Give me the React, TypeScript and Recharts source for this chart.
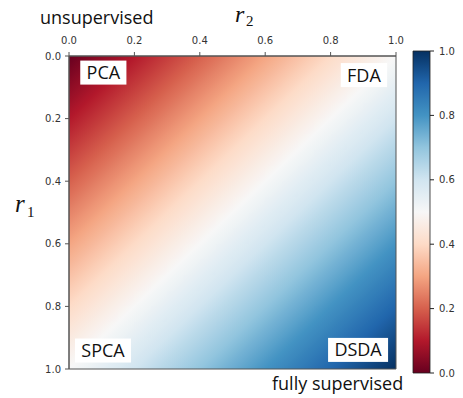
import React, { useLayoutEffect, useRef, useState } from 'react';
import { ScatterChart, Scatter, BarChart, Bar, XAxis, YAxis, ReferenceArea } from 'recharts';

const r2Ticks = [0, 0.2, 0.4, 0.6, 0.8, 1.0];
const r1Ticks = [0, 0.2, 0.4, 0.6, 0.8, 1.0];
const colorbarTicks = [0, 0.2, 0.4, 0.6, 0.8, 1.0];

// matplotlib RdBu, value 0 -> 1
const rdbu = ['#67001f', '#b2182b', '#d6604d', '#f4a582', '#fddbc7', '#f7f7f7', '#d1e5f0', '#92c5de', '#4393c3', '#2166ac', '#053061'];

// rows: r1 from top (0) to bottom (1); columns: r2 from left (0) to right (1)
const heat = [
  [0.025, 0.05, 0.075, 0.1, 0.125, 0.15, 0.175, 0.2, 0.225, 0.25, 0.275, 0.3, 0.325, 0.35, 0.375, 0.4, 0.425, 0.45, 0.475, 0.5],
  [0.05, 0.075, 0.1, 0.125, 0.15, 0.175, 0.2, 0.225, 0.25, 0.275, 0.3, 0.325, 0.35, 0.375, 0.4, 0.425, 0.45, 0.475, 0.5, 0.525],
  [0.075, 0.1, 0.125, 0.15, 0.175, 0.2, 0.225, 0.25, 0.275, 0.3, 0.325, 0.35, 0.375, 0.4, 0.425, 0.45, 0.475, 0.5, 0.525, 0.55],
  [0.1, 0.125, 0.15, 0.175, 0.2, 0.225, 0.25, 0.275, 0.3, 0.325, 0.35, 0.375, 0.4, 0.425, 0.45, 0.475, 0.5, 0.525, 0.55, 0.575],
  [0.125, 0.15, 0.175, 0.2, 0.225, 0.25, 0.275, 0.3, 0.325, 0.35, 0.375, 0.4, 0.425, 0.45, 0.475, 0.5, 0.525, 0.55, 0.575, 0.6],
  [0.15, 0.175, 0.2, 0.225, 0.25, 0.275, 0.3, 0.325, 0.35, 0.375, 0.4, 0.425, 0.45, 0.475, 0.5, 0.525, 0.55, 0.575, 0.6, 0.625],
  [0.175, 0.2, 0.225, 0.25, 0.275, 0.3, 0.325, 0.35, 0.375, 0.4, 0.425, 0.45, 0.475, 0.5, 0.525, 0.55, 0.575, 0.6, 0.625, 0.65],
  [0.2, 0.225, 0.25, 0.275, 0.3, 0.325, 0.35, 0.375, 0.4, 0.425, 0.45, 0.475, 0.5, 0.525, 0.55, 0.575, 0.6, 0.625, 0.65, 0.675],
  [0.225, 0.25, 0.275, 0.3, 0.325, 0.35, 0.375, 0.4, 0.425, 0.45, 0.475, 0.5, 0.525, 0.55, 0.575, 0.6, 0.625, 0.65, 0.675, 0.7],
  [0.25, 0.275, 0.3, 0.325, 0.35, 0.375, 0.4, 0.425, 0.45, 0.475, 0.5, 0.525, 0.55, 0.575, 0.6, 0.625, 0.65, 0.675, 0.7, 0.725],
  [0.275, 0.3, 0.325, 0.35, 0.375, 0.4, 0.425, 0.45, 0.475, 0.5, 0.525, 0.55, 0.575, 0.6, 0.625, 0.65, 0.675, 0.7, 0.725, 0.75],
  [0.3, 0.325, 0.35, 0.375, 0.4, 0.425, 0.45, 0.475, 0.5, 0.525, 0.55, 0.575, 0.6, 0.625, 0.65, 0.675, 0.7, 0.725, 0.75, 0.775],
  [0.325, 0.35, 0.375, 0.4, 0.425, 0.45, 0.475, 0.5, 0.525, 0.55, 0.575, 0.6, 0.625, 0.65, 0.675, 0.7, 0.725, 0.75, 0.775, 0.8],
  [0.35, 0.375, 0.4, 0.425, 0.45, 0.475, 0.5, 0.525, 0.55, 0.575, 0.6, 0.625, 0.65, 0.675, 0.7, 0.725, 0.75, 0.775, 0.8, 0.825],
  [0.375, 0.4, 0.425, 0.45, 0.475, 0.5, 0.525, 0.55, 0.575, 0.6, 0.625, 0.65, 0.675, 0.7, 0.725, 0.75, 0.775, 0.8, 0.825, 0.85],
  [0.4, 0.425, 0.45, 0.475, 0.5, 0.525, 0.55, 0.575, 0.6, 0.625, 0.65, 0.675, 0.7, 0.725, 0.75, 0.775, 0.8, 0.825, 0.85, 0.875],
  [0.425, 0.45, 0.475, 0.5, 0.525, 0.55, 0.575, 0.6, 0.625, 0.65, 0.675, 0.7, 0.725, 0.75, 0.775, 0.8, 0.825, 0.85, 0.875, 0.9],
  [0.45, 0.475, 0.5, 0.525, 0.55, 0.575, 0.6, 0.625, 0.65, 0.675, 0.7, 0.725, 0.75, 0.775, 0.8, 0.825, 0.85, 0.875, 0.9, 0.925],
  [0.475, 0.5, 0.525, 0.55, 0.575, 0.6, 0.625, 0.65, 0.675, 0.7, 0.725, 0.75, 0.775, 0.8, 0.825, 0.85, 0.875, 0.9, 0.925, 0.95],
  [0.5, 0.525, 0.55, 0.575, 0.6, 0.625, 0.65, 0.675, 0.7, 0.725, 0.75, 0.775, 0.8, 0.825, 0.85, 0.875, 0.9, 0.925, 0.95, 0.975],
];

const methods = [
  { name: 'PCA', r2: 0.105, r1: 0.053 },
  { name: 'FDA', r2: 0.902, r1: 0.061 },
  { name: 'SPCA', r2: 0.104, r1: 0.941 },
  { name: 'DSDA', r2: 0.884, r1: 0.939 },
];

const colorbarData = [{ name: 'scale', value: 1 }];

const tickFont = { fontFamily: 'DejaVu Sans', fontSize: 10, fill: '#333' };
const labelFont = 'Open Sans';

function hexToRgb(h: string) {
  return [parseInt(h.slice(1, 3), 16), parseInt(h.slice(3, 5), 16), parseInt(h.slice(5, 7), 16)];
}

function rdbuColor(v: number) {
  const t = Math.min(Math.max(v, 0), 1) * (rdbu.length - 1);
  const i = Math.min(Math.floor(t), rdbu.length - 2);
  const f = t - i;
  const a = hexToRgb(rdbu[i]);
  const b = hexToRgb(rdbu[i + 1]);
  const c = a.map((x, k) => Math.round(x + (b[k] - x) * f));
  return `rgb(${c[0]},${c[1]},${c[2]})`;
}

// smooth shading inside each cell (like imshow's bilinear interpolation)
function cellGradient(i: number, j: number) {
  const row = heat[i];
  const n = row.length;
  const m = heat.length;
  const v = row[j];
  const gx = j === 0 ? row[1] - row[0] : j === n - 1 ? row[j] - row[j - 1] : (row[j + 1] - row[j - 1]) / 2;
  const gy = i === 0 ? heat[1][j] - heat[0][j] : i === m - 1 ? heat[i][j] - heat[i - 1][j] : (heat[i + 1][j] - heat[i - 1][j]) / 2;
  const span = Math.abs(gx) + Math.abs(gy);
  const g2 = gx * gx + gy * gy;
  const s = g2 > 0 ? span / g2 : 0;
  const id = `cell${i}_${j}`;
  const ts = [0, 0.25, 0.5, 0.75, 1];
  return (
    <linearGradient
      key={id}
      id={id}
      x1={0.5 - (gx * s) / 2}
      y1={0.5 - (gy * s) / 2}
      x2={0.5 + (gx * s) / 2}
      y2={0.5 + (gy * s) / 2}
    >
      {ts.map((t) => (
        <stop key={t} offset={t} stopColor={rdbuColor(v - span / 2 + t * span)} />
      ))}
    </linearGradient>
  );
}

function MethodBox(props: any) {
  const { cx, cy, payload } = props;
  const ref = useRef<SVGTextElement>(null);
  const [w, setW] = useState(0);
  useLayoutEffect(() => {
    if (ref.current) setW(ref.current.getBBox().width);
  }, []);
  const bw = w + 12;
  return (
    <g>
      <rect x={cx - bw / 2} y={cy - 12} width={bw} height={24} fill="#fff" />
      <text ref={ref} x={cx} y={cy + 6.5} textAnchor="middle" fontFamily={labelFont} fontSize={18} fill="#111">
        {payload.name}
      </text>
    </g>
  );
}

const fmt = (v: number) => v.toFixed(1);

export default function App() {
  const rows = heat.length;
  return (
    <div style={{ position: 'absolute', left: 0, top: 0, width: 463, height: 398, background: '#fff', overflow: 'hidden' }}>
      <svg width={0} height={0} style={{ position: 'absolute' }}>
        <defs>
          {heat.flatMap((row, i) => row.map((_, j) => cellGradient(i, j)))}
          <linearGradient id="rdbuBar" x1="0" y1="1" x2="0" y2="0">
            {rdbu.map((c, i) => (
              <stop key={c} offset={i / (rdbu.length - 1)} stopColor={c} />
            ))}
          </linearGradient>
        </defs>
      </svg>

      <div style={{ position: 'absolute', left: 0, top: 0 }}>
        <ScatterChart width={463} height={398} margin={{ top: 0, right: 67, bottom: 29, left: 0 }}>
          <XAxis
            type="number"
            dataKey="r2"
            orientation="top"
            domain={[0, 1]}
            ticks={r2Ticks}
            tickFormatter={fmt}
            height={56}
            tickSize={4}
            tickMargin={8}
            tick={tickFont}
            stroke="#555"
            allowDataOverflow
          />
          <YAxis
            type="number"
            dataKey="r1"
            reversed
            domain={[0, 1]}
            ticks={r1Ticks}
            tickFormatter={fmt}
            width={69}
            tickSize={4}
            tickMargin={4}
            tick={tickFont}
            stroke="#555"
            allowDataOverflow
          />
          {heat.flatMap((row, i) =>
            row.map((_, j) => (
              <ReferenceArea
                key={`c${i}-${j}`}
                x1={j / row.length}
                x2={(j + 1) / row.length}
                y1={i / rows}
                y2={(i + 1) / rows}
                fill={`url(#cell${i}_${j})`}
                fillOpacity={1}
                stroke="none"
                shapeRendering="crispEdges"
              />
            ))
          )}
          <ReferenceArea x1={0} x2={1} y1={0} y2={1} fill="none" fillOpacity={0} stroke="#555" strokeWidth={1} />
          <Scatter data={methods} isAnimationActive={false} shape={(p: any) => <MethodBox {...p} />} />
        </ScatterChart>
      </div>

      <div style={{ position: 'absolute', left: 0, top: 0 }}>
        <BarChart width={463} height={398} data={colorbarData} margin={{ top: 51, right: 0, bottom: 25, left: 413 }} barCategoryGap={0}>
          <XAxis dataKey="name" hide />
          <YAxis
            type="number"
            orientation="right"
            domain={[0, 1]}
            ticks={colorbarTicks}
            tickFormatter={fmt}
            width={33}
            tickSize={4}
            tickMargin={5}
            tick={tickFont}
            stroke="#222"
            axisLine={false}
          />
          <Bar dataKey="value" fill="url(#rdbuBar)" stroke="#222" strokeWidth={0.8} isAnimationActive={false} />
        </BarChart>
      </div>

      <svg width={463} height={398} style={{ position: 'absolute', left: 0, top: 0, pointerEvents: 'none' }}>
        <text x={40} y={24} fontFamily={labelFont} fontSize={18} fill="#111">unsupervised</text>
        <text x={272} y={390} fontFamily={labelFont} fontSize={18} fill="#111">fully supervised</text>
        <text x={235} y={22} fontFamily="Liberation Serif" fontStyle="italic" fontSize={24} fill="#111">r</text>
        <text x={246} y={26} fontFamily="Liberation Serif" fontSize={15} fill="#111">2</text>
        <text x={15} y={212} fontFamily="Liberation Serif" fontStyle="italic" fontSize={25} fill="#111">r</text>
        <text x={27} y={217} fontFamily="Liberation Serif" fontSize={15} fill="#111">1</text>
      </svg>
    </div>
  );
}
